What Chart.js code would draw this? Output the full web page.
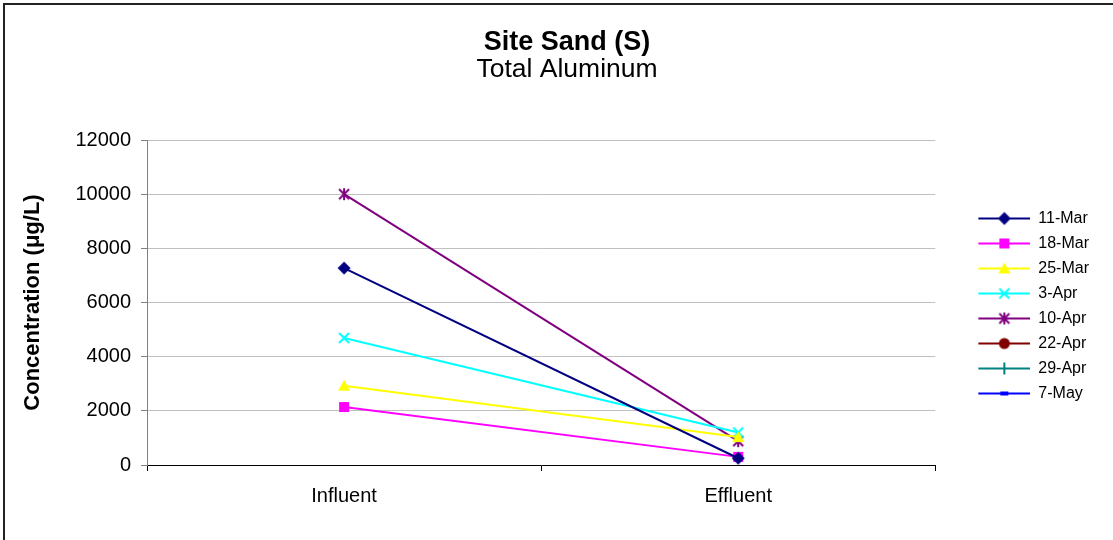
<!DOCTYPE html>
<html>
<head>
<meta charset="utf-8">
<script src="https://cdn.jsdelivr.net/npm/chart.js@4.4.1/dist/chart.umd.min.js"></script>
<style>
html,body{margin:0;padding:0;background:#fff;}
#wrap{position:relative;width:1113px;height:540px;}
</style>
</head>
<body>
<div id="wrap"><canvas id="c" width="1113" height="540"></canvas></div>
<script>
// ---- data ----
const categories = ['Influent', 'Effluent'];
const seriesNames = ['11-Mar', '18-Mar', '25-Mar', '3-Apr', '10-Apr', '22-Apr', '29-Apr', '7-May'];
const mar11 = [7270, 250];
const mar18 = [2140, 300];
const mar25 = [2930, 1030];
const apr3 = [4690, 1200];
const apr10 = [10000, 880];
const apr22 = [null, null];
const apr29 = [null, null];
const may7 = [null, null];
const yTicks = [0, 2000, 4000, 6000, 8000, 10000, 12000];

const FONT = "'Liberation Sans', Arial, sans-serif";

// ---- marker canvases ----
function mk(w, h, draw) {
  const c = document.createElement('canvas');
  c.width = w; c.height = h;
  const g = c.getContext('2d');
  draw(g, w, h);
  return c;
}
function drawMarker(g, type, color, cx, cy) {
  g.fillStyle = color; g.strokeStyle = color;
  switch (type) {
    case 'diamond':
      g.beginPath(); g.moveTo(cx, cy - 6.5); g.lineTo(cx + 6.5, cy); g.lineTo(cx, cy + 6.5); g.lineTo(cx - 6.5, cy); g.closePath(); g.fill(); break;
    case 'square':
      g.fillRect(cx - 5, cy - 5, 10, 10); break;
    case 'triangle':
      g.beginPath(); g.moveTo(cx, cy - 6); g.lineTo(cx + 6, cy + 5); g.lineTo(cx - 6, cy + 5); g.closePath(); g.fill(); break;
    case 'x':
      g.lineWidth = 2; g.beginPath(); g.moveTo(cx - 5, cy - 5); g.lineTo(cx + 5, cy + 5); g.moveTo(cx + 5, cy - 5); g.lineTo(cx - 5, cy + 5); g.stroke(); break;
    case 'star':
      g.lineWidth = 2; g.beginPath(); g.moveTo(cx - 5, cy - 5); g.lineTo(cx + 5, cy + 5); g.moveTo(cx + 5, cy - 5); g.lineTo(cx - 5, cy + 5); g.moveTo(cx, cy - 6); g.lineTo(cx, cy + 6); g.stroke(); break;
    case 'circle':
      g.beginPath(); g.arc(cx, cy, 5.5, 0, Math.PI * 2); g.fill(); break;
    case 'plus':
      g.lineWidth = 2; g.beginPath(); g.moveTo(cx, cy - 6); g.lineTo(cx, cy + 6); g.moveTo(cx - 6, cy); g.lineTo(cx + 6, cy); g.stroke(); break;
    case 'dash':
      g.fillRect(cx - 4, cy - 2, 8, 4); break;
  }
}
function pointCanvas(type, color) {
  return mk(16, 16, (g) => drawMarker(g, type, color, 8, 8));
}
const LEG_W = 86;
function legendCanvas(type, color) {
  return mk(LEG_W, 16, (g, w, h) => {
    g.strokeStyle = color; g.lineWidth = 2;
    g.beginPath(); g.moveTo(34, 8); g.lineTo(w, 8); g.stroke();
    drawMarker(g, type, color, 60, 8);
  });
}

const styles = [
  { color: '#000080', marker: 'diamond' },
  { color: '#FF00FF', marker: 'square' },
  { color: '#FFFF00', marker: 'triangle' },
  { color: '#00FFFF', marker: 'x' },
  { color: '#800080', marker: 'star' },
  { color: '#800000', marker: 'circle' },
  { color: '#008080', marker: 'plus' },
  { color: '#0000FF', marker: 'dash' }
];
const seriesData = [mar11, mar18, mar25, apr3, apr10, apr22, apr29, may7];

const datasets = seriesNames.map((name, i) => ({
  label: name,
  data: seriesData[i],
  borderColor: styles[i].color,
  backgroundColor: styles[i].color,
  borderWidth: 2,
  pointStyle: pointCanvas(styles[i].marker, styles[i].color),
  legendStyle: legendCanvas(styles[i].marker, styles[i].color),
  tension: 0,
  spanGaps: false
}));

const frame = {
  id: 'frame',
  beforeDraw(chart) {
    const g = chart.ctx;
    g.save();
    g.fillStyle = '#fff';
    g.fillRect(0, 0, chart.width, chart.height);
    g.strokeStyle = '#222';
    g.lineWidth = 2;
    g.beginPath();
    g.moveTo(4, chart.height + 5); g.lineTo(4, 4); g.lineTo(chart.width + 5, 4);
    g.stroke();
    g.restore();
  }
};

new Chart(document.getElementById('c'), {
  type: 'line',
  data: { labels: categories, datasets },
  plugins: [frame],
  options: {
    responsive: false,
    animation: false,
    layout: { padding: { left: 35, right: 14, top: 0, bottom: 0 } },
    plugins: {
      title: {
        display: true, text: 'Site Sand (S)', color: '#000',
        font: { family: FONT, size: 27, weight: 'bold', lineHeight: 1 },
        padding: { top: 29, bottom: 0 }
      },
      subtitle: {
        display: true, text: 'Total Aluminum', color: '#000',
        font: { family: FONT, size: 26.5, weight: 'normal', lineHeight: 1 },
        padding: { top: 0.75, bottom: 56.75 }
      },
      legend: {
        position: 'right',
        title: { display: true, text: ' ', font: { family: FONT, size: 12, lineHeight: 1 }, padding: { top: 60, bottom: 0 } },
        labels: {
          usePointStyle: true,
          pointStyleWidth: LEG_W,
          color: '#000',
          font: { family: FONT, size: 16 },
          padding: 9,
          generateLabels(chart) {
            return chart.data.datasets.map((ds, i) => ({
              text: ds.label,
              fillStyle: ds.borderColor,
              strokeStyle: ds.borderColor,
              lineWidth: 0,
              pointStyle: ds.legendStyle,
              hidden: false,
              datasetIndex: i,
              fontColor: '#000'
            }));
          }
        }
      },
      tooltip: { enabled: false }
    },
    scales: {
      x: {
        offset: true,
        grid: { offset: true, drawOnChartArea: false, drawTicks: true, tickLength: 6, color: '#000' },
        border: { color: '#000', width: 1 },
        ticks: { color: '#000', font: { family: FONT, size: 20 }, padding: 13 },
        afterFit(scale) { scale.height = 75; }
      },
      y: {
        min: 0, max: 12000,
        afterBuildTicks(scale) { scale.ticks = yTicks.map(v => ({ value: v })); },
        grid: { color: '#c0c0c0', tickColor: '#808080', tickLength: 6 },
        border: { color: '#808080', width: 1 },
        ticks: { color: '#000', font: { family: FONT, size: 20 }, padding: 10, callback: (v) => String(v) },
        title: {
          display: true, text: 'Concentration (μg/L)', color: '#000',
          font: { family: FONT, size: 22, weight: 'bold' },
          padding: { top: -15.2, bottom: 0 }
        },
        afterFit(scale) { scale.width = 112; }
      }
    }
  }
});
</script>
</body>
</html>
